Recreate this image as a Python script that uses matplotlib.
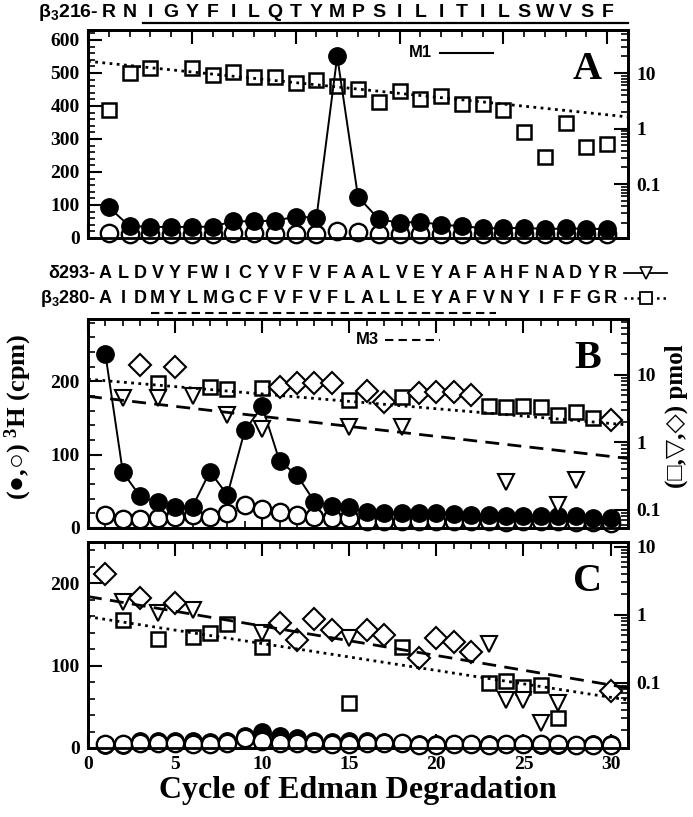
import numpy as np
import matplotlib
matplotlib.use("Agg")
import matplotlib.pyplot as plt
from matplotlib.lines import Line2D
from matplotlib.ticker import MultipleLocator, LogLocator, NullFormatter
from matplotlib import font_manager

plt.rcParams['font.family'] = ['Liberation Serif', 'DejaVu Sans']
plt.rcParams['font.weight'] = 'bold'
plt.rcParams['mathtext.default'] = 'regular'
plt.rcParams['xtick.direction'] = 'in'
plt.rcParams['ytick.direction'] = 'in'

names = {f.name for f in font_manager.fontManager.ttflist}
seqfont = 'Liberation Sans Narrow' if 'Liberation Sans Narrow' in names else 'Liberation Sans'

# ---- panel A : beta3 216- (M1)
seqA = list("RNIGYFILQTYMPSILITILSWVSF")
cyclesA = np.arange(1, 26)
filledA = [93, 36, 34, 33, 34, 34, 51, 50, 53, 64, 62, 550, 125, 57, 46, 49, 40, 36, 30, 29, 31, 27, 29, 28, 27]
openA = [16, 12, 12, 12, 12, 12, 14, 14, 13, 12, 13, 20, 17, 13, 13, 13, 12, 12, 12, 11, 12, 11, 11, 11, 11]
sqA_cyc = [1, 2, 3, 5, 6, 7, 8, 9, 10, 11, 12, 13, 14, 15, 16, 17, 18, 19, 20, 21, 22, 23, 24, 25]
sqA = [2.15, 10, 12.2, 12.2, 9.2, 10.6, 8.4, 8.6, 6.7, 7.5, 5.8, 5.1, 3.05, 4.8, 3.4, 3.9,
       2.8, 2.8, 2.15, 0.88, 0.31, 1.28, 0.46, 0.53]
fitA_sq = (16.4, 0.915)   # I0 (pmol), repetitive yield

# ---- panel B : delta293- / beta3 280- (M3)
seqB_delta = list("ALDVYFWICYVFVFAALVEYAFAHFNADYR")
seqB_beta = list("AIDMYLMGCFVFVFLALLEYAFVNYIFFGR")
cyclesBC = np.arange(1, 31)
filledB = [237, 76, 43, 35, 28, 29, 77, 45, 133, 166, 91, 72, 36, 30, 28, 22, 21, 21, 21, 21,
           19, 18, 18, 17, 16, 17, 16, 16, 14, 13]
openB = [18, 12, 12, 13, 15, 18, 15, 21, 31, 26, 22, 18, 15, 14, 14, 10, 10, 10, 10, 10,
         10, 9, 9, 8, 9, 9, 9, 8, 8, 7]
sqB_cyc = [4, 7, 8, 10, 15, 18, 23, 24, 25, 26, 27, 28, 29]
sqB = [7.5, 6.5, 6.1, 6.35, 4.3, 4.7, 3.5, 3.3, 3.5, 3.3, 2.55, 2.86, 2.28]
triB_cyc = [2, 4, 6, 8, 10, 15, 18, 24, 27, 28]
triB = [4.5, 4.5, 4.8, 2.55, 1.6, 1.68, 1.68, 0.26, 0.12, 0.28]
diaB_cyc = [3, 5, 11, 12, 13, 14, 16, 17, 19, 20, 21, 22, 30]
diaB = [14.1, 13.0, 6.7, 7.5, 7.5, 7.5, 5.85, 4.0, 5.35, 5.65, 5.65, 5.05, 2.15]
fitB_sq = (8.6, 0.951)
fitB_tri = (4.8, 0.934)

# ---- panel C
filledC = [4, 4, 8, 8, 9, 8, 7, 8, 14, 19, 14, 12, 8, 7, 8, 8, 7, 6, 5, 5, 5, 5, 5, 5, 5, 4, 4, 4, 5, 5]
openC = [5, 5, 6, 6, 6, 5, 5, 6, 12, 8, 6, 6, 6, 5, 5, 6, 6, 6, 4, 4, 5, 5, 4, 5, 5, 5, 5, 4, 4, 4]
sqC_cyc = [2, 4, 6, 7, 8, 10, 15, 18, 23, 24, 25, 26, 27]
sqC = [0.84, 0.44, 0.48, 0.54, 0.74, 0.34, 0.05, 0.34, 0.099, 0.105, 0.088, 0.093, 0.03]
triC_cyc = [2, 4, 6, 10, 15, 23, 24, 25, 26, 27]
triC = [1.57, 1.08, 1.19, 0.54, 0.46, 0.37, 0.056, 0.056, 0.0255, 0.05]
diaC_cyc = [1, 3, 5, 11, 12, 13, 14, 16, 17, 19, 20, 21, 22, 30]
diaC = [4.0, 1.8, 1.5, 0.77, 0.42, 0.87, 0.6, 0.6, 0.5, 0.23, 0.45, 0.4, 0.28, 0.075]
fitC_sq = (0.94, 0.913)
fitC_tri = (1.86, 0.905)


fig = plt.figure(figsize=(6.93, 8.17), dpi=100)
L, W = 88 / 693, 540 / 693
def box(top, bot):
    return [L, 1 - bot / 817, W, (bot - top) / 817]

axA = fig.add_axes(box(30, 238))
axB = fig.add_axes(box(319, 528))
axC = fig.add_axes(box(542, 748))

def style(ax, xmax, ymax, ymin_r, ymax_r, xlabels):
    ax.set_xlim(0, xmax)
    ax.set_ylim(0, ymax)
    ax.xaxis.set_major_locator(MultipleLocator(5))
    ax.xaxis.set_minor_locator(MultipleLocator(1))
    ax.yaxis.set_major_locator(MultipleLocator(100))
    ax.yaxis.set_minor_locator(MultipleLocator(20))
    ax.tick_params(which='major', length=10, width=1.5, top=True, right=False,
                   labelsize=14, labelbottom=xlabels, pad=6)
    ax.tick_params(which='minor', length=5, width=1.2, top=True, right=False)
    for s in ax.spines.values():
        s.set_linewidth(2)
    for lab in ax.get_xticklabels() + ax.get_yticklabels():
        lab.set_fontweight('bold')
    ax2 = ax.twinx()
    ax2.set_yscale('log')
    ax2.set_ylim(ymin_r, ymax_r)
    ax2.set_yticks([0.1, 1, 10], labels=['0.1', '1', '10'])
    ax2.yaxis.set_minor_locator(LogLocator(base=10, subs=np.arange(2, 10), numticks=20))
    ax2.yaxis.set_minor_formatter(NullFormatter())
    ax2.tick_params(which='major', length=10, width=1.5, labelsize=14, pad=6)
    ax2.tick_params(which='minor', length=5, width=1.2)
    for s in ax2.spines.values():
        s.set_linewidth(2)
    return ax2

def circles(ax, x, filled, opened, open_on_top=False):
    zf, zo = (3, 4) if open_on_top else (4, 3)
    ax.plot(x, filled, '-', color='black', lw=1.4, marker='o', ms=12.5,
            mfc='black', mec='black', zorder=zf, clip_on=False)
    ax.plot(x, opened, 'none', marker='o', ms=12.5, mfc='white', mec='black',
            mew=1.7, zorder=zo, clip_on=False)

def fitline(ax2, xmax, fit, ls):
    xf = np.array([0, xmax])
    ax2.plot(xf, fit[0] * fit[1] ** xf, color='black', lw=2.0, ls=ls)

dotted = (0, (1, 1.6))
dashed = (0, (5, 3))
sq_kw = dict(ls='none', marker='s', ms=10.5, mfc='none', mec='black', mew=1.8)
tri_kw = dict(ls='none', marker='v', ms=11.5, mfc='white', mec='black', mew=1.5)
dia_kw = dict(ls='none', marker='D', ms=11, mfc='white', mec='black', mew=1.5)

# A
axA2 = style(axA, 26, 630, 0.0107, 60, False)
circles(axA, cyclesA, filledA, openA)
axA2.plot(sqA_cyc, sqA, **sq_kw)
fitline(axA2, 26, fitA_sq, dotted)

# B
axB2 = style(axB, 31, 285, 0.054, 67, False)
circles(axB, cyclesBC, filledB, openB)
axB2.plot(sqB_cyc, sqB, **sq_kw)
axB2.plot(triB_cyc, triB, **tri_kw)
axB2.plot(diaB_cyc, diaB, **dia_kw)
fitline(axB2, 31, fitB_sq, dotted)
fitline(axB2, 31, fitB_tri, dashed)

# C
axC2 = style(axC, 31, 250, 0.011, 11.8, True)
circles(axC, cyclesBC, filledC, openC, open_on_top=True)
axC2.plot(sqC_cyc, sqC, **sq_kw)
axC2.plot(triC_cyc, triC, **tri_kw)
axC2.plot(diaC_cyc, diaC, **dia_kw)
fitline(axC2, 31, fitC_sq, dotted)
fitline(axC2, 31, fitC_tri, dashed)
axC.set_xlabel('Cycle of Edman Degradation', fontsize=23, fontweight='bold', labelpad=2)

# panel letters
for ax, t in [(axA, 'A'), (axB, 'B'), (axC, 'C')]:
    ax.text(0.925, 0.81, t, transform=ax.transAxes, ha='center', va='center',
            fontsize=29, fontweight='bold')

# M1 / M3 keys
axA.text(0.615, 0.89, 'M1', transform=axA.transAxes, ha='center', va='center',
         family=seqfont, fontsize=12, fontweight='bold')
axA.add_line(Line2D([0.652, 0.75], [0.89, 0.89], transform=axA.transAxes, color='black', lw=1.5))
axB.text(0.517, 0.90, 'M3', transform=axB.transAxes, ha='center', va='center',
         family=seqfont, fontsize=12, fontweight='bold')
axB.add_line(Line2D([0.55, 0.652], [0.90, 0.90], transform=axB.transAxes, color='black',
                    lw=1.5, ls=(0, (4, 2.5))))

# sequences
trA = axA.get_xaxis_transform()
for x, s in zip(cyclesA, seqA):
    axA.text(x, 1.082, s, transform=trA, ha='center', va='center', family=seqfont,
             fontsize=14, fontweight='bold', clip_on=False)
axA.text(0.5, 1.082, 'β$_3$216-', transform=trA, ha='right', va='center',
         family=seqfont, fontsize=14, fontweight='bold')
axA.add_line(Line2D([2.65, 26], [1.034, 1.034], transform=trA, color='black', lw=1.6,
                    clip_on=False))

trB = axB.get_xaxis_transform()
for x, s1, s2 in zip(cyclesBC, seqB_delta, seqB_beta):
    axB.text(x, 1.22, s1, transform=trB, ha='center', va='center', family=seqfont,
             fontsize=13, fontweight='bold')
    axB.text(x, 1.10, s2, transform=trB, ha='center', va='center', family=seqfont,
             fontsize=13, fontweight='bold')
axB.text(0.45, 1.22, 'δ293-', transform=trB, ha='right', va='center', family=seqfont,
         fontsize=13, fontweight='bold')
axB.text(0.45, 1.10, 'β$_3$280-', transform=trB, ha='right', va='center', family=seqfont,
         fontsize=13, fontweight='bold')
axB.add_line(Line2D([3.6, 23.4], [1.029, 1.029], transform=trB, color='black', lw=1.5,
                    ls=(0, (4, 2.5)), clip_on=False))

# key glyphs at end of sequence rows
kx = np.array([624, 645.5, 667]) / 693
fig.add_artist(Line2D(kx, [1 - 273 / 817] * 3, color='black', lw=1.3, marker='v', ms=9,
                      mfc='white', mec='black', mew=1.2, markevery=[1]))
fig.add_artist(Line2D(kx, [1 - 298 / 817] * 3, color='black', lw=1.8, ls=dotted, marker='s',
                      ms=8, mfc='white', mec='black', mew=1.3, markevery=[1]))

# axis titles
fig.text(0.026, 0.49, '(●,○) $^3$H (cpm)', rotation=90, ha='center', va='center',
         fontsize=19, fontweight='bold')
fig.text(0.976, 0.49, '(□,▽,◇) pmol', rotation=90, ha='center', va='center',
         fontsize=18, fontweight='bold')

fig.savefig('out.png', dpi=100)
